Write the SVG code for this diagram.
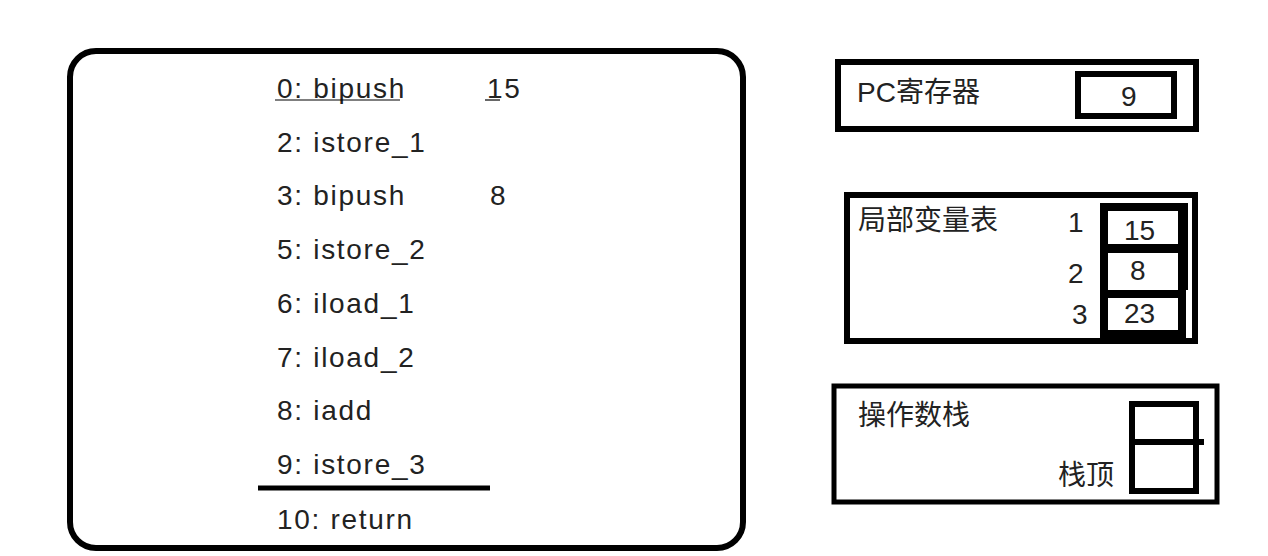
<svg xmlns="http://www.w3.org/2000/svg" width="1268" height="556" viewBox="0 0 1268 556">
<style>
text{font-family:"Liberation Sans","Noto Sans CJK SC",sans-serif;font-size:28px;fill:#222}
.c{letter-spacing:1.7px}
.b{fill:none;stroke:#000}
</style>
<rect width="1268" height="556" fill="#fff"/>
<g id="code">
<rect class="b" x="70" y="51" width="673" height="497" rx="26" stroke-width="6"/>
<text class="c" x="277" y="98">0: bipush</text><text class="c" x="487" y="98">15</text>
<line x1="275" y1="100" x2="400" y2="100" stroke="#000" stroke-width="1.2"/>
<line x1="485" y1="100" x2="500" y2="100" stroke="#000" stroke-width="1.2"/>
<text class="c" x="277" y="152">2: istore_1</text>
<text class="c" x="277" y="205">3: bipush</text><text x="490" y="205">8</text>
<text class="c" x="277" y="259">5: istore_2</text>
<text class="c" x="277" y="313">6: iload_1</text>
<text class="c" x="277" y="367">7: iload_2</text>
<text class="c" x="277" y="420">8: iadd</text>
<text class="c" x="277" y="474">9: istore_3</text>
<line x1="258" y1="488" x2="490" y2="488" stroke="#000" stroke-width="5"/>
<text class="c" x="277" y="529">10: return</text>
</g>
<g id="pc">
<rect class="b" x="838" y="62" width="358" height="67" stroke-width="6"/>
<text x="857" y="102">PC寄存器</text>
<rect class="b" x="1078" y="74" width="96" height="42" stroke-width="6"/>
<text x="1121" y="106">9</text>
</g>
<g id="locals">
<rect class="b" x="847" y="195" width="348" height="146" stroke-width="6"/>
<text x="858" y="230">局部变量表</text>
<rect x="1100" y="203" width="88" height="136" fill="#000"/>
<rect x="1108" y="211" width="70" height="33" fill="#fff"/>
<rect x="1108" y="253" width="70" height="37" fill="#fff"/>
<rect x="1108" y="298" width="70" height="32" fill="#fff"/>
<rect x="1186" y="290" width="3" height="48" fill="#fff"/>
<text x="1068" y="232">1</text><text x="1124" y="240">15</text>
<text x="1068" y="283">2</text><text x="1130" y="280">8</text>
<text x="1072" y="324">3</text><text x="1124" y="323">23</text>
</g>
<g id="stack">
<rect class="b" x="834" y="386" width="383" height="116" stroke-width="5"/>
<text x="858" y="425">操作数栈</text>
<text x="1058" y="485">栈顶</text>
<rect class="b" x="1132" y="404" width="64" height="87" stroke-width="6"/>
<line x1="1132" y1="442" x2="1204" y2="442" stroke="#000" stroke-width="6"/>
</g>
<g id="connectors"></g>
</svg>
